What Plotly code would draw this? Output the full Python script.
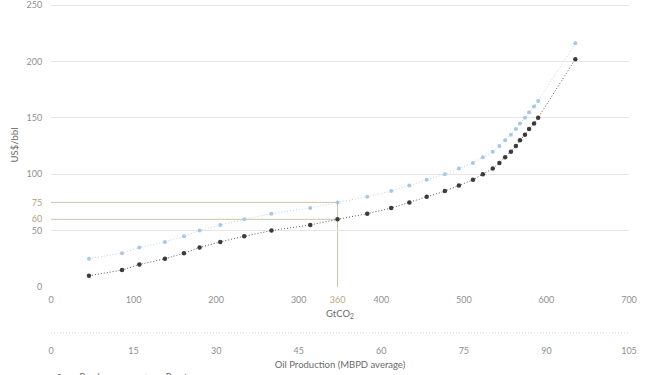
import plotly.graph_objects as go

# ---- data ----
gtco2 = [46, 86, 107, 138, 161, 180, 205, 234, 267, 314, 347, 383, 412, 434, 455,
         477, 494, 511, 523, 535, 543, 550, 557, 563, 568, 574, 579, 585, 590, 635]
breakeven = [10, 15, 20, 25, 30, 35, 40, 45, 50, 55, 60, 65, 70, 75, 80,
             85, 90, 95, 100, 105, 110, 115, 120, 125, 130, 135, 140, 145, 150, 202]
brent = [25, 30, 35, 40, 45, 50, 55, 60, 65, 70, 75, 80, 85, 90, 95,
         100, 105, 110, 115, 120, 125, 130, 135, 140, 145, 150, 155, 160, 165, 216]

x_ticks = [0, 100, 200, 300, 400, 500, 600, 700]
x2_ticks = [0, 15, 30, 45, 60, 75, 90, 105]
y_ticks = [0, 50, 100, 150, 200, 250]
y_guide_ticks = [60, 75]
highlight_x = 347          # position of the highlighted budget on the axis
highlight_label = "360"
highlight_brent = 75
highlight_breakeven = 60

W, H = 662, 375
ML, MR, MT, MB = 51, 33, 3, 20
plot_h = H - MT - MB
y_bottom_px = 287
y_top_px = 5
ydom0 = (H - MB - y_bottom_px) / plot_h
y_max = 250 * (y_bottom_px - MT) / (y_bottom_px - y_top_px)
x2_line_px = 333
x2_pos = (H - MB - x2_line_px) / plot_h

tick_font = dict(family="Lato", size=9, color="#8f8f8f")
title_font = dict(family="Lato", size=9.5, color="#6a6a6a")
guide_col = "#cdc4ab"

fig = go.Figure()
fig.add_trace(go.Scatter(
    x=gtco2, y=breakeven, name="Breakeven", mode="lines+markers",
    line=dict(color="#5a5a5a", width=1, dash="1px,2px"),
    marker=dict(color="#3b3b3b", size=4.5),
))
fig.add_trace(go.Scatter(
    x=gtco2, y=brent, name="Brent", mode="lines+markers",
    line=dict(color="#bcd5ea", width=1, dash="1px,2px"),
    marker=dict(color="#a6c8e4", size=4),
))
# invisible traces so the extra axes are drawn
fig.add_trace(go.Scatter(x=[x2_ticks[0], x2_ticks[-1]], y=[None, None], xaxis="x2",
                         showlegend=False, hoverinfo="skip", mode="markers"))
fig.add_trace(go.Scatter(x=[None], y=[None], yaxis="y2",
                         showlegend=False, hoverinfo="skip", mode="markers"))

# guide lines
fig.add_shape(type="line", x0=0, x1=highlight_x, y0=highlight_brent, y1=highlight_brent,
              line=dict(color=guide_col, width=1), layer="below")
fig.add_shape(type="line", x0=0, x1=highlight_x, y0=highlight_breakeven, y1=highlight_breakeven,
              line=dict(color=guide_col, width=1), layer="below")
fig.add_shape(type="line", x0=highlight_x, x1=highlight_x, y0=0, y1=highlight_brent,
              line=dict(color=guide_col, width=1), layer="below")
# production axis line
fig.add_shape(type="line", xref="paper", yref="paper", x0=0, x1=1, y0=x2_pos, y1=x2_pos,
              line=dict(color="#d2d2d2", width=1, dash="1px,2px"))

x_vals = x_ticks[:4] + [highlight_x] + x_ticks[4:]
x_text = [str(v) for v in x_ticks[:4]] + [f"<span style='color:#b8a97f'>{highlight_label}</span>"] + [str(v) for v in x_ticks[4:]]

fig.update_layout(
    width=W, height=H,
    margin=dict(l=ML, r=MR, t=MT, b=MB, autoexpand=False),
    paper_bgcolor="white", plot_bgcolor="white",
    font=dict(family="Lato", color="#6a6a6a"),
    xaxis=dict(range=[0, 700], tickvals=x_vals, ticktext=x_text, showgrid=False,
               zeroline=False, showline=False, tickfont=tick_font, automargin=False,
               ticks="outside", ticklen=4, tickcolor="rgba(0,0,0,0)",
               title=dict(text="GtCO<sub>2</sub>", font=title_font, standoff=6),
               anchor="y"),
    xaxis2=dict(range=[0, 105], tickvals=x2_ticks, overlaying="x", anchor="free",
                position=x2_pos, side="bottom", showgrid=False, zeroline=False,
                showline=False, tickfont=tick_font, automargin=False,
                ticks="outside", ticklen=9, tickcolor="rgba(0,0,0,0)",
                title=dict(text="Oil Production (MBPD average)", font=title_font, standoff=6)),
    yaxis=dict(range=[0, y_max], domain=[ydom0, 1], tickvals=y_ticks, showgrid=True,
               gridcolor="#e6e6e6", gridwidth=1, zeroline=False, tickfont=tick_font,
               ticks="outside", ticklen=6, tickcolor="rgba(0,0,0,0)", automargin=False,
               ticklabeloverflow="allow",
               title=dict(text="US$/bbl", font=title_font, standoff=6)),
    yaxis2=dict(range=[0, y_max], overlaying="y", side="left", anchor="x",
                tickvals=y_guide_ticks, showgrid=False, zeroline=False, automargin=False,
                tickfont=dict(family="Lato", size=9, color="#b0a27a"),
                ticks="outside", ticklen=6, tickcolor="rgba(0,0,0,0)"),
    legend=dict(orientation="h", x=-0.02, xanchor="left", y=(H - MB - 362) / plot_h,
                yanchor="top", font=dict(family="Lato", size=9, color="#6a6a6a"),
                itemwidth=30, bgcolor="rgba(0,0,0,0)"),
    showlegend=True,
)

fig.write_html("out.html")
